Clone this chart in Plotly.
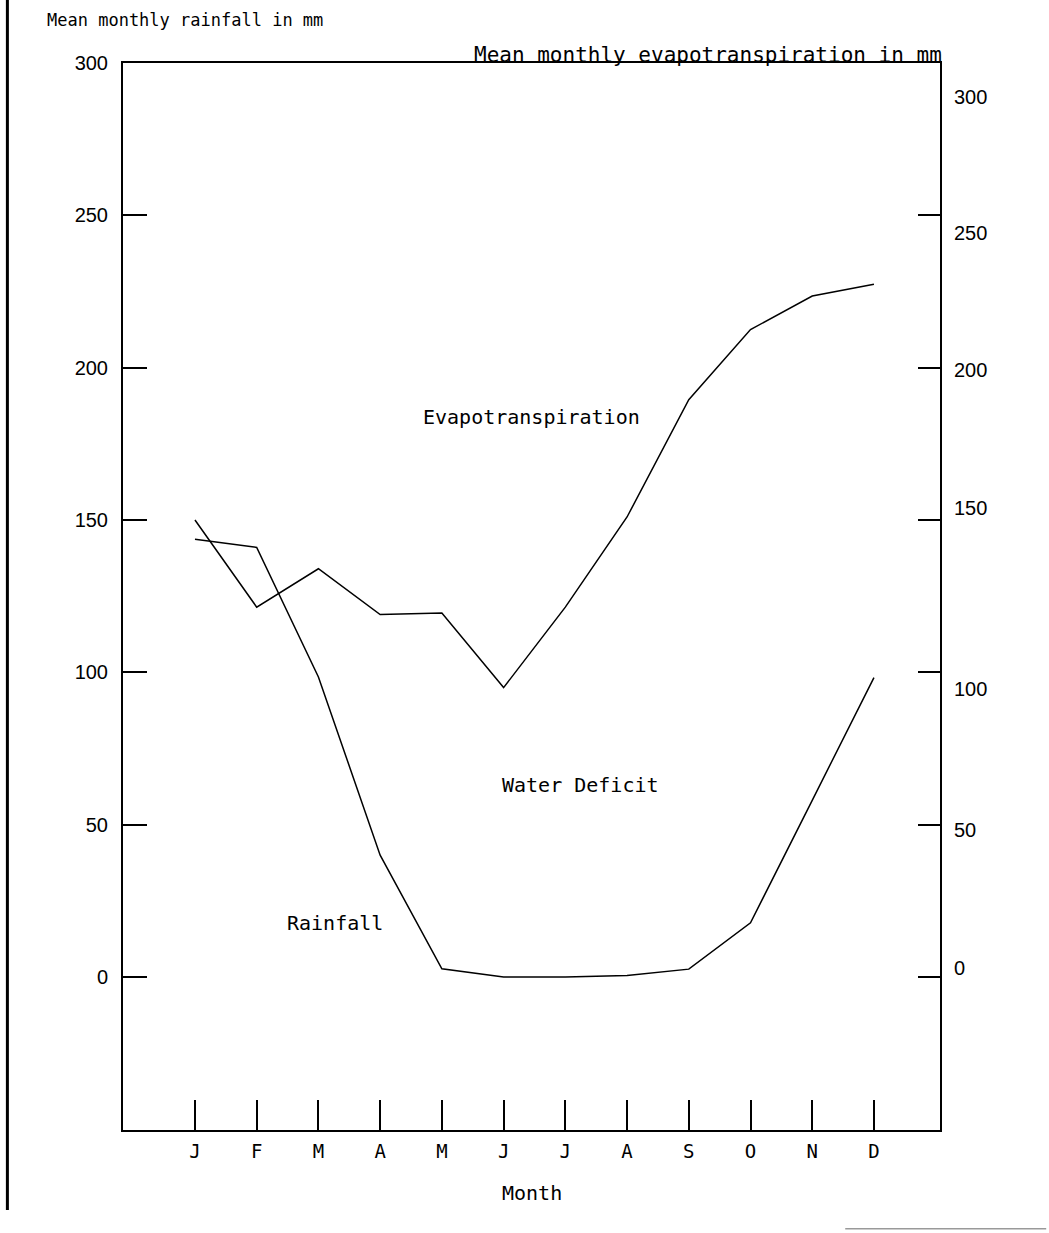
import plotly.graph_objects as go

months = ["J", "F", "M", "A", "M", "J", "J", "A", "S", "O", "N", "D"]
month_idx = list(range(len(months)))
evapotranspiration = [150, 121.4, 134, 119, 119.5, 95, 121.4, 151, 189.5, 212.5, 223.5, 227.4]
rainfall = [143.7, 141, 98.5, 40, 2.7, 0, 0, 0.5, 2.6, 17.8, 58, 98.3]
left_ticks = [0, 50, 100, 150, 200, 250, 300]
right_ticks = [0, 50, 100, 150, 200, 250, 300]
right_label_shift = [9, -5, -17, 12, -2, -18, -34]

MONO = "DejaVu Sans Mono"
SANS = "Liberation Sans"

fig = go.Figure()
fig.add_trace(go.Scatter(x=month_idx, y=evapotranspiration, mode="lines",
                         line=dict(color="black", width=1.5), yaxis="y2",
                         name="Evapotranspiration", showlegend=False))
fig.add_trace(go.Scatter(x=month_idx, y=rainfall, mode="lines",
                         line=dict(color="black", width=1.5),
                         name="Rainfall", showlegend=False))

yrange = [-50.2, 300]
fig.update_layout(
    width=1049, height=1233,
    margin=dict(l=123, r=109, t=63, b=103),
    paper_bgcolor="white", plot_bgcolor="white",
    xaxis=dict(range=[-1.166, 12.07], tickvals=month_idx, ticktext=months,
               ticks="inside", ticklen=30, tickwidth=2, tickcolor="black",
               showline=True, linecolor="black", linewidth=2, mirror=True,
               showgrid=False, zeroline=False, ticklabelstandoff=3,
               tickfont=dict(family=MONO, size=19, color="black")),
    yaxis=dict(range=yrange, tickvals=left_ticks, ticks="inside", ticklen=24,
               tickwidth=1.5, tickcolor="black", showline=True, linecolor="black",
               linewidth=2, showgrid=False, zeroline=False, ticklabelstandoff=9,
               tickfont=dict(family=SANS, size=20, color="black")),
    yaxis2=dict(range=yrange, tickvals=right_ticks, ticks="inside", ticklen=22,
                tickwidth=1.5, tickcolor="black", showline=True, linecolor="black",
                linewidth=2, showgrid=False, zeroline=False, overlaying="y",
                side="right", showticklabels=False),
)

ann = []
for v, s in zip(right_ticks, right_label_shift):
    ann.append(dict(x=1, xref="paper", y=v, yref="y2", text=str(v), showarrow=False,
                    xanchor="left", xshift=12, yshift=s,
                    font=dict(family=SANS, size=20, color="black")))
ann += [
    dict(x=0, xref="paper", y=1, yref="paper", text="Mean monthly rainfall in mm",
         showarrow=False, xanchor="left", yanchor="middle", xshift=-78, yshift=43,
         font=dict(family=MONO, size=17, color="black")),
    dict(x=1, xref="paper", y=1, yref="paper", text="Mean monthly evapotranspiration in mm",
         showarrow=False, xanchor="right", yanchor="middle", xshift=4, yshift=8,
         font=dict(family=MONO, size=21, color="black")),
    dict(x=5.46, y=183.8, text="Evapotranspiration", showarrow=False,
         font=dict(family=MONO, size=20, color="black")),
    dict(x=6.25, y=63.0, text="Water Deficit", showarrow=False,
         font=dict(family=MONO, size=20, color="black")),
    dict(x=2.27, y=17.7, text="Rainfall", showarrow=False,
         font=dict(family=MONO, size=20, color="black")),
    dict(x=0.5, xref="paper", y=0, yref="paper", text="Month", showarrow=False,
         yanchor="middle", yshift=-63, font=dict(family=MONO, size=20, color="black")),
]
fig.update_layout(annotations=ann)

# scan page edges
fig.add_shape(type="line", xref="paper", yref="paper", x0=-0.1415, x1=-0.1415,
              y0=1.059, y1=-0.075, line=dict(color="black", width=3))
fig.add_shape(type="line", xref="paper", yref="paper", x0=0.884, x1=1.13,
              y0=-0.0925, y1=-0.0925, line=dict(color="#999999", width=1.5))

fig.write_html("out.html", config={"displayModeBar": False},
               post_script="document.body.style.margin='0';")
